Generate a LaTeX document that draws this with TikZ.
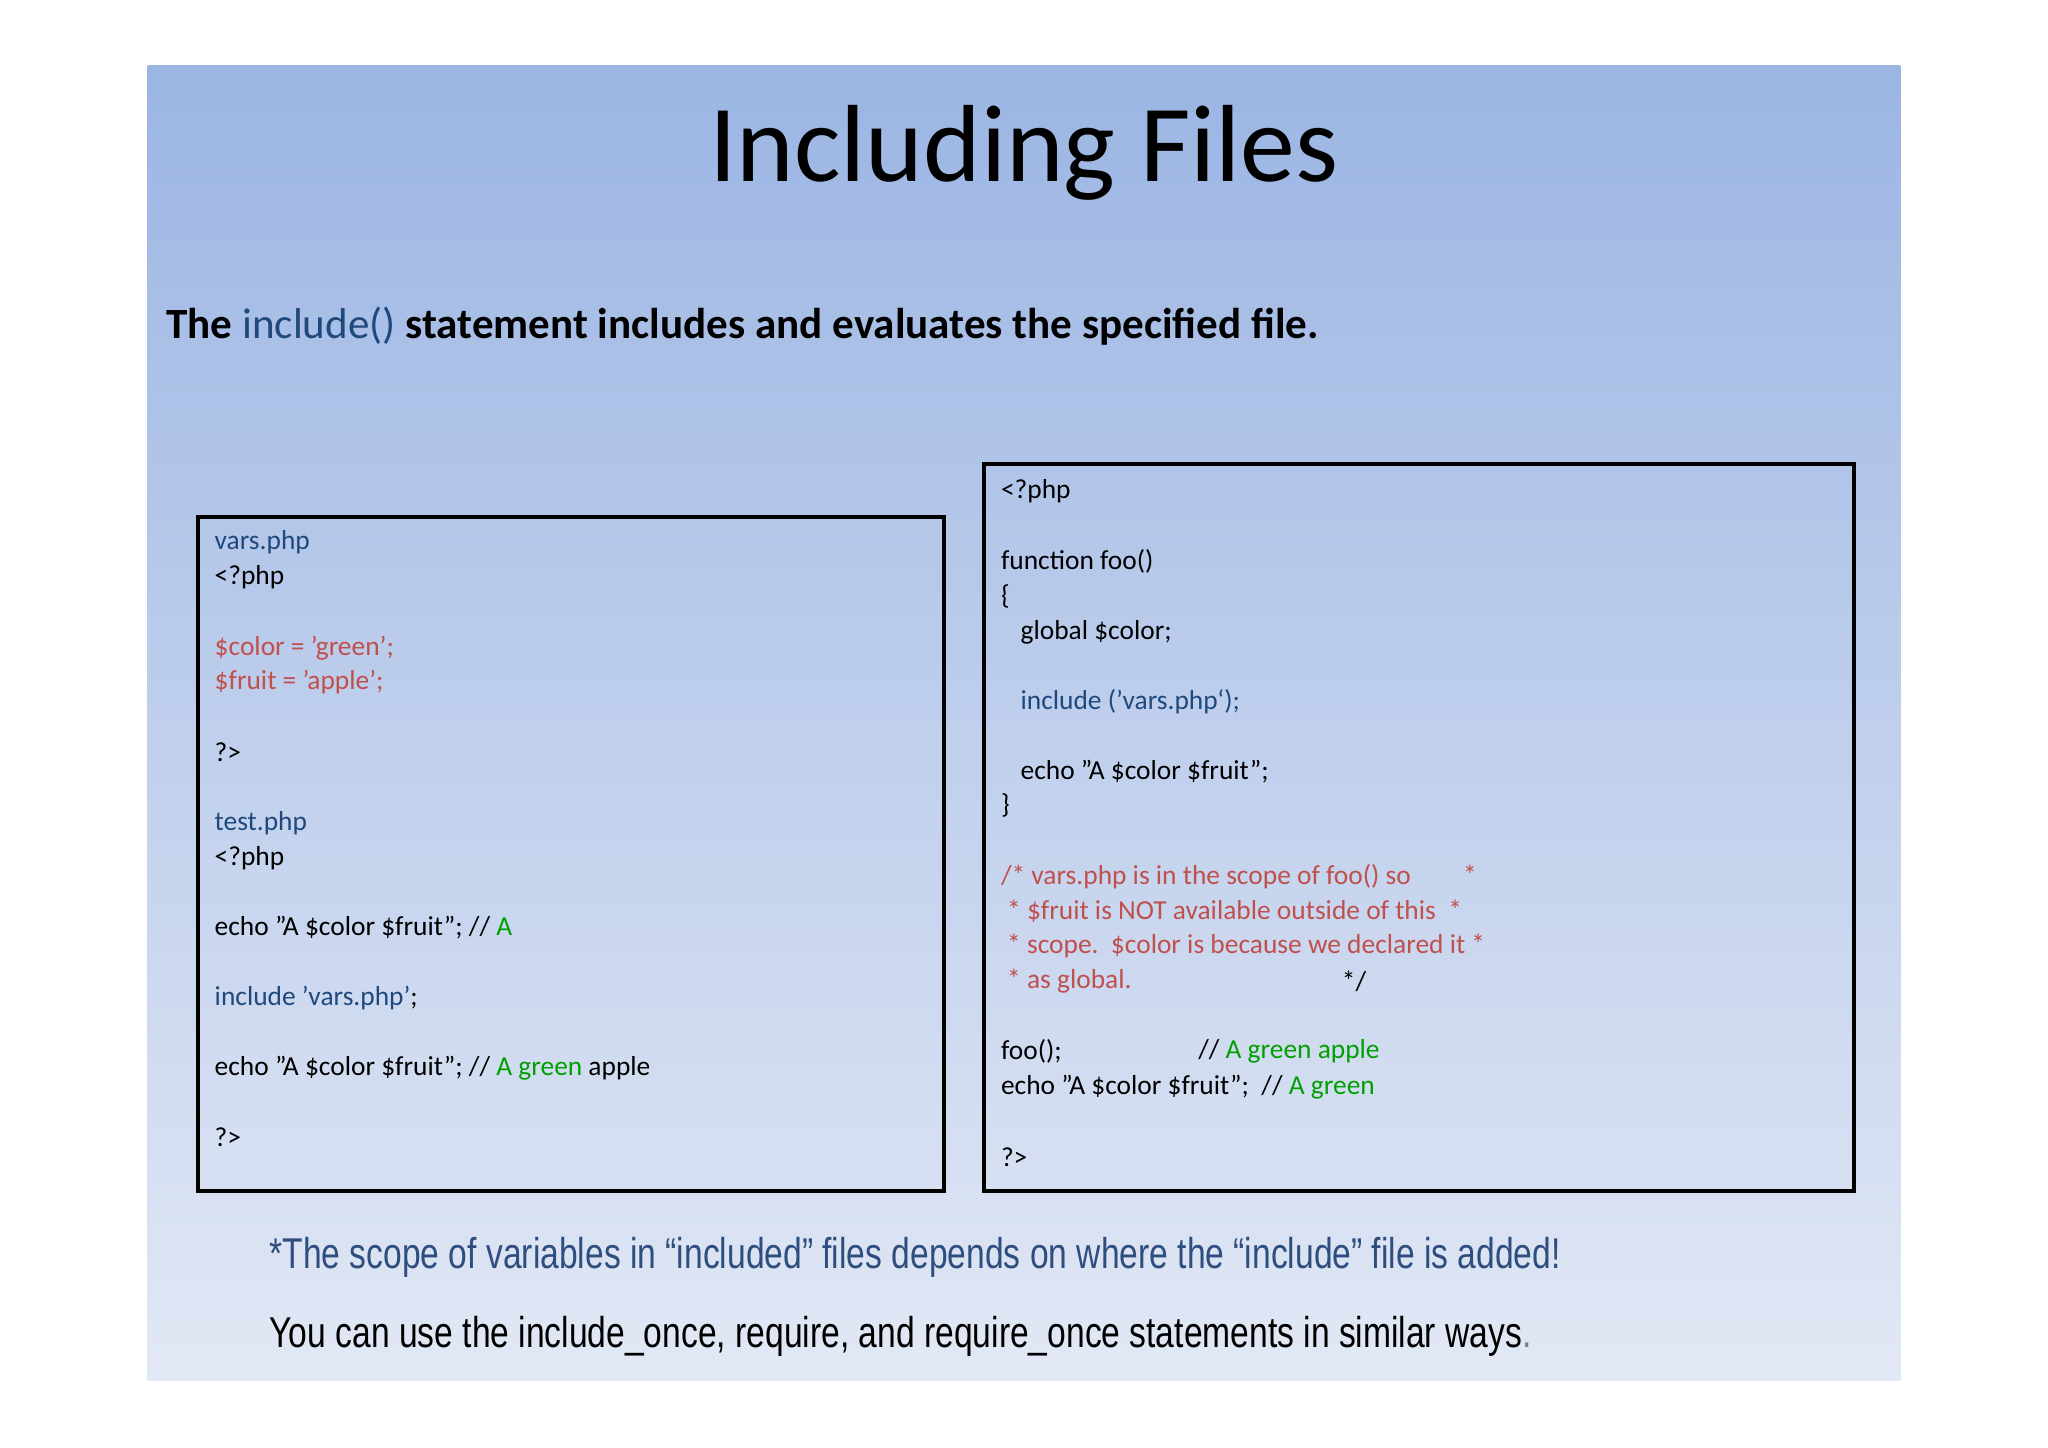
\documentclass[tikz,border=0pt]{standalone}
\usepackage{fontspec}
\setmainfont{Carlito}
\newfontfamily\narrowfont[FakeStretch=0.78]{Liberation Sans}
\definecolor{bgtop}{HTML}{9BB5E3}
\definecolor{bgbot}{HTML}{E2E8F5}
\definecolor{kwblue}{HTML}{1F497D}
\definecolor{cred}{HTML}{C0504D}
\definecolor{cgreen}{HTML}{00A000}
\definecolor{notecol}{HTML}{2E4E80}
\begin{document}
\begin{tikzpicture}[x=0.5pt,y=-0.5pt,
  codebox/.style={draw=black,line width=1.5pt},
  code/.style={anchor=west,inner sep=0pt,font=\fontsize{10.5}{12}\selectfont},
  note/.style={anchor=west,inner sep=0pt,font=\narrowfont\fontsize{16.5}{19}\selectfont}]
\useasboundingbox (0,0) rectangle (1568,1108);
\fill[white] (0,0) rectangle (1568,1108);
\shade[top color=bgtop,bottom color=bgbot] (113,50) rectangle (1455,1057);
\node[inner sep=0pt,font=\fontsize{42}{48}\selectfont] (title) at (784,117) {Including Files};
\node[anchor=west,inner sep=0pt,font=\bfseries\fontsize{16.5}{20}\selectfont] (sub) at (127,250) {The \textcolor{kwblue}{\mdseries include()} statement includes and evaluates the specified file.};
\node[codebox,minimum width=285.5pt,minimum height=258pt,anchor=north west,inner sep=0pt] (left) at (150,394) {};
\node[codebox,minimum width=333pt,minimum height=278pt,anchor=north west,inner sep=0pt] (right) at (752,354) {};
% left code
\node[code,text=kwblue] (l1) at (164,415) {vars.php};
\node[code] (l2) at (164,442) {<?php};
\node[code,text=cred] (l3) at (164,496) {\$color = 'green';};
\node[code,text=cred] (l4) at (164,522) {\$fruit = 'apple';};
\node[code] (l5) at (164,576) {?>};
\node[code,text=kwblue] (l6) at (164,630) {test.php};
\node[code] (l7) at (164,657) {<?php};
\node[code] (l8) at (164,710) {echo "A \$color \$fruit"; // \textcolor{cgreen}{A}};
\node[code] (l9) at (164,764) {\textcolor{kwblue}{include} \textcolor{kwblue}{'vars.php'};};
\node[code] (l10) at (164,818) {echo "A \$color \$fruit"; // \textcolor{cgreen}{A green} apple};
\node[code] (l11) at (164,871) {?>};
% right code
\node[code] (r1) at (766,376) {<?php};
\node[code] (r2) at (766,430) {function foo()};
\node[code] (r3) at (766,457) {\{};
\node[code] (r4) at (781,484) {global \$color;};
\node[code,text=kwblue] (r5) at (781,537) {include ('vars.php`);};
\node[code] (r6) at (781,591) {echo "A \$color \$fruit";};
\node[code] (r7) at (766,617) {\}};
\node[code,text=cred] (r8) at (766,671) {/* vars.php is in the scope of foo() so\hspace{20pt}*};
\node[code,text=cred] (r9) at (766,698) {\ * \$fruit is NOT available outside of this\ \ *};
\node[code,text=cred] (r10) at (766,724) {\ * scope.\ \ \$color is because we declared it *};
\node[code,text=cred] (r11) at (766,751) {\ * as global.};
\node[code] (r11b) at (1027,751) {*/};
\node[code] (r12) at (766,805) {foo();};
\node[code] (r12b) at (917,805) {// \textcolor{cgreen}{A green apple}};
\node[code] (r13) at (766,832) {echo "A \$color \$fruit";\ \ // \textcolor{cgreen}{A green}};
\node[code] (r14) at (766,886) {?>};
% notes
\node[note,text=notecol] (n1) at (206,963) {*The scope of variables in “included” files depends on where the “include” file is added!};
\node[note] (n2) at (206,1023) {You can use the include\_once, require, and require\_once statements in similar ways\textcolor{gray}{.}};
\end{tikzpicture}
\end{document}
